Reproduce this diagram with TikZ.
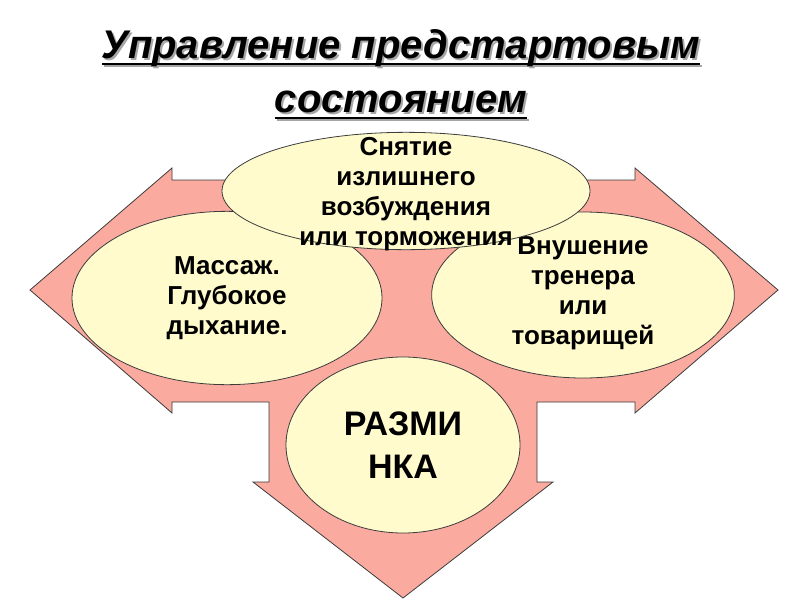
\documentclass[tikz,border=0pt]{standalone}
\usepackage{fontspec}
\setmainfont{Liberation Sans}
\usetikzlibrary{positioning, shapes.geometric}

\definecolor{arrowpink}{RGB}{250,170,158}
\definecolor{cream}{RGB}{255,251,204}
\definecolor{rim}{RGB}{60,60,60}

\newcommand{\ulin}[1]{\setbox0\hbox{#1}\rlap{\rule[-5pt]{\wd0}{1.8pt}}\box0}

\begin{document}
\begin{tikzpicture}[
  x=0.75pt, y=-0.75pt,
  headline/.style={align=center, inner sep=0pt,
                   font=\fontsize{30}{40.5}\selectfont\bfseries\itshape},
  blob/.style={draw=rim, line width=0.6pt, ellipse, fill=cream, inner sep=0pt},
  blobtext/.style={align=center, inner sep=0pt,
              font=\fontsize{19.5}{22.5}\selectfont\bfseries},
  bigtext/.style={align=center, inner sep=0pt,
                 font=\fontsize{25.5}{32}\selectfont\bfseries},
]
\useasboundingbox (0,0) rectangle (800,600);

% title with its shadow
\node[headline, text=black!35, anchor=north] (titleshadow) at (403,31)
    {\ulin{Управление предстартовым}\\ \ulin{состоянием}};
\node[headline, anchor=north] (title) at (401,29)
    {\ulin{Управление предстартовым}\\ \ulin{состоянием}};

% three-way arrow
\draw[draw=rim, line width=0.6pt, fill=arrowpink]
  (30,290) -- (172,168) -- (172,180) -- (635,180) -- (635,168) -- (778,290)
  -- (635,413) -- (635,402) -- (537,402) -- (537,482) -- (553,482)
  -- (403,598) -- (253,482) -- (269,482) -- (269,402) -- (172,402)
  -- (172,413) -- cycle;

\node[blob, minimum width=232.5pt, minimum height=130pt,
      label={[blobtext]center:Массаж.\\Глубокое\\дыхание.}] (massage) at (227,298) {};
\node[blob, minimum width=227pt, minimum height=124.5pt,
      label={[blobtext, yshift=1pt]center:Внушение\\тренера\\или\\товарищей}] (coach) at (583,295) {};
\node[blob, minimum width=175.5pt, minimum height=132pt,
      label={[bigtext]center:РАЗМИ\\НКА}] (warmup) at (403,445) {};
\node[blob, minimum width=276pt, minimum height=88pt,
      label={[blobtext, yshift=-2pt]center:Снятие\\излишнего\\возбуждения\\или торможения}] (relief) at (406,191) {};

\end{tikzpicture}
\end{document}
